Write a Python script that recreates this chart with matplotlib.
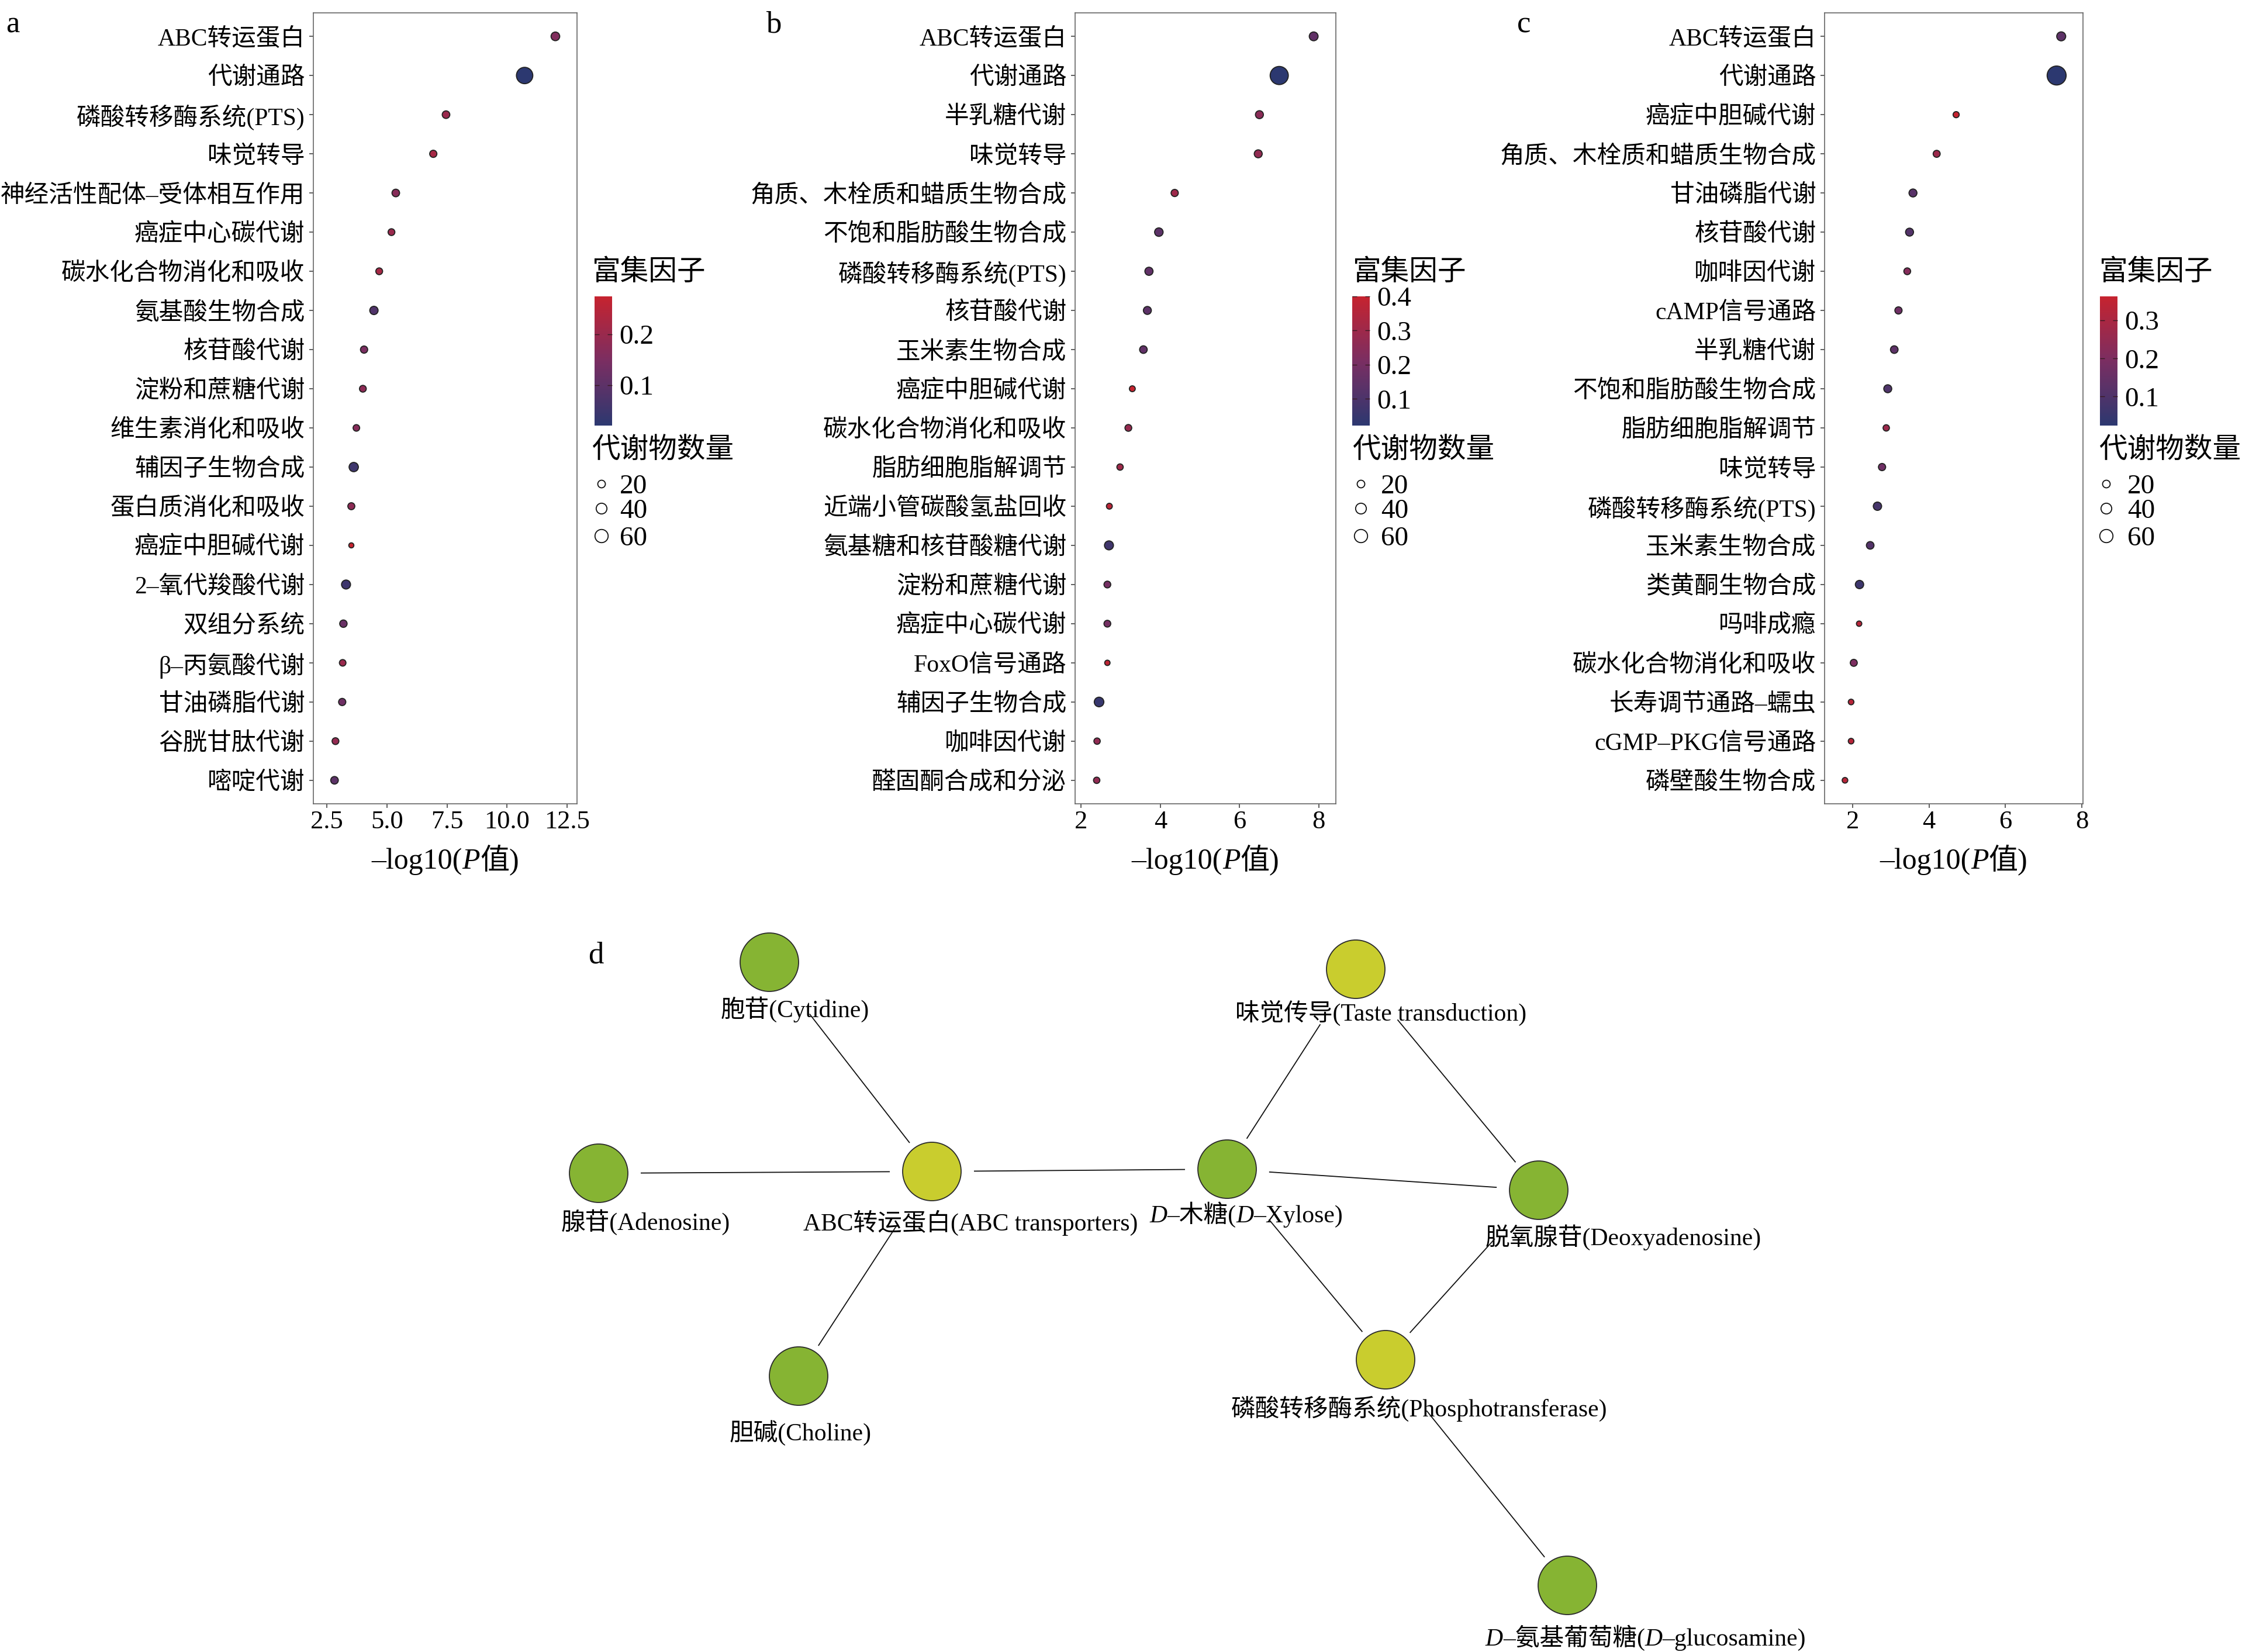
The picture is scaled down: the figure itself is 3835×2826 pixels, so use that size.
import re
import numpy as np
import matplotlib
matplotlib.use('Agg')
import matplotlib.pyplot as plt
import matplotlib.cm as cm
from matplotlib.colors import LinearSegmentedColormap, Normalize
from matplotlib.patches import Circle

FAM = ['Liberation Serif', 'Noto Sans CJK SC']
plt.rcParams['font.family'] = FAM

# ---------------- data ----------------
a_terms = ['ABC转运蛋白', '代谢通路', '磷酸转移酶系统(PTS)', '味觉转导', '神经活性配体–受体相互作用',
           '癌症中心碳代谢', '碳水化合物消化和吸收', '氨基酸生物合成', '核苷酸代谢', '淀粉和蔗糖代谢',
           '维生素消化和吸收', '辅因子生物合成', '蛋白质消化和吸收', '癌症中胆碱代谢', '2–氧代羧酸代谢',
           '双组分系统', 'β–丙氨酸代谢', '甘油磷脂代谢', '谷胱甘肽代谢', '嘧啶代谢']
a_logp = [12.01, 10.73, 7.46, 6.93, 5.37, 5.19, 4.68, 4.46, 4.05, 4.00,
          3.73, 3.62, 3.52, 3.52, 3.30, 3.19, 3.16, 3.14, 2.86, 2.82]
a_ef = [0.16, 0.021, 0.20, 0.22, 0.17, 0.20, 0.22, 0.08, 0.15, 0.18,
        0.17, 0.05, 0.18, 0.274, 0.05, 0.12, 0.20, 0.13, 0.19, 0.10]
a_count = [26, 93, 20, 18, 20, 16, 16, 24, 18, 16, 15, 30, 17, 9, 28, 19, 15, 18, 16, 20]
a_xticks = [2.5, 5.0, 7.5, 10.0, 12.5]
a_cticks = [0.1, 0.2]

b_terms = ['ABC转运蛋白', '代谢通路', '半乳糖代谢', '味觉转导', '角质、木栓质和蜡质生物合成',
           '不饱和脂肪酸生物合成', '磷酸转移酶系统(PTS)', '核苷酸代谢', '玉米素生物合成', '癌症中胆碱代谢',
           '碳水化合物消化和吸收', '脂肪细胞脂解调节', '近端小管碳酸氢盐回收', '氨基糖和核苷酸糖代谢',
           '淀粉和蔗糖代谢', '癌症中心碳代谢', 'FoxO信号通路', '辅因子生物合成', '咖啡因代谢', '醛固酮合成和分泌']
b_logp = [7.87, 7.00, 6.50, 6.47, 4.36, 3.96, 3.71, 3.67, 3.57, 3.29,
          3.19, 2.98, 2.71, 2.70, 2.66, 2.66, 2.66, 2.45, 2.40, 2.39]
b_ef = [0.15, 0.022, 0.25, 0.27, 0.30, 0.14, 0.15, 0.14, 0.15, 0.40,
        0.28, 0.30, 0.37, 0.07, 0.20, 0.20, 0.38, 0.05, 0.27, 0.27]
b_count = [27, 114, 22, 22, 18, 25, 23, 22, 20, 12, 16, 14, 12, 28, 16, 16, 10, 32, 14, 14]
b_xticks = [2, 4, 6, 8]
b_cticks = [0.1, 0.2, 0.3, 0.4]

c_terms = ['ABC转运蛋白', '代谢通路', '癌症中胆碱代谢', '角质、木栓质和蜡质生物合成', '甘油磷脂代谢',
           '核苷酸代谢', '咖啡因代谢', 'cAMP信号通路', '半乳糖代谢', '不饱和脂肪酸生物合成',
           '脂肪细胞脂解调节', '味觉转导', '磷酸转移酶系统(PTS)', '玉米素生物合成', '类黄酮生物合成',
           '吗啡成瘾', '碳水化合物消化和吸收', '长寿调节通路–蠕虫', 'cGMP–PKG信号通路', '磷壁酸生物合成']
c_logp = [7.46, 7.34, 4.71, 4.20, 3.58, 3.49, 3.43, 3.20, 3.09, 2.92,
          2.88, 2.77, 2.65, 2.46, 2.18, 2.17, 2.03, 1.96, 1.96, 1.80]
c_ef = [0.13, 0.024, 0.363, 0.27, 0.12, 0.11, 0.22, 0.17, 0.13, 0.10,
        0.27, 0.17, 0.08, 0.11, 0.06, 0.33, 0.20, 0.33, 0.33, 0.33]
c_count = [28, 125, 13, 17, 22, 22, 16, 18, 20, 22, 14, 18, 24, 20, 24, 10, 17, 11, 11, 11]
c_xticks = [2, 4, 6, 8]
c_cticks = [0.1, 0.2, 0.3]

size_legend_values = [20, 40, 60]

# network (panel d)
node_names = ['胞苷(Cytidine)', '腺苷(Adenosine)', 'ABC转运蛋白(ABC transporters)', '胆碱(Choline)',
              '味觉传导(Taste transduction)', 'D–木糖(D–Xylose)', '脱氧腺苷(Deoxyadenosine)',
              '磷酸转移酶系统(Phosphotransferase)', 'D–氨基葡萄糖(D–glucosamine)']
node_type = ['metabolite', 'metabolite', 'pathway', 'metabolite', 'pathway',
             'metabolite', 'metabolite', 'pathway', 'metabolite']
node_x = [1316, 1024, 1594, 1366, 2319, 2099, 2632, 2370, 2681]
node_y = [1646, 2007, 2004, 2354, 1658, 2000, 2036, 2326, 2712]
edges = [(0, 2), (1, 2), (2, 3), (2, 5), (4, 5), (4, 6), (5, 6), (5, 7), (6, 7), (7, 8)]

# ---------------- layout / style ----------------
W, H = 3835, 2826
DPI = 100
fig = plt.figure(figsize=(W / DPI, H / DPI), dpi=DPI)
fig.patch.set_facecolor('white')
renderer = fig.canvas.get_renderer()

cmap = LinearSegmentedColormap.from_list('ef', ['#2C3870', '#7A2E62', '#C6232F'])


def size_of(n):
    return 4.38 * np.asarray(n, dtype=float)


def rect(l, r, t, b):
    return [l / W, 1 - b / H, (r - l) / W, (b - t) / H]


def rich_text(cx, baseline_y, parts, size, ha='center'):
    objs = []
    for s, st in parts:
        t = fig.text(0, 0, s, fontsize=size, fontstyle=st, ha='left', va='baseline', family=FAM)
        objs.append(t)
    widths = [t.get_window_extent(renderer).width for t in objs]
    x = cx - sum(widths) / 2 if ha == 'center' else cx
    for t, w in zip(objs, widths):
        t.set_position((x / W, 1 - baseline_y / H))
        x += w


def italic_parts(s):
    out = []
    for p in re.split(r'(D(?=–))', s):
        if p == '':
            continue
        out.append((p, 'italic' if p == 'D' else 'normal'))
    return out


panels = [
    (a_terms, a_logp, a_ef, a_count, a_xticks, a_cticks, (1.94, 12.91), (536, 987), '%.1f', 'a', 10,
     1017, 1012, 1029, 1060),
    (b_terms, b_logp, b_ef, b_count, b_xticks, b_cticks, (1.845, 8.43), (1839, 2285), '%d', 'b', 1310,
     2313, 2313, 2328, 2362),
    (c_terms, c_logp, c_ef, c_count, c_xticks, c_cticks, (1.266, 8.03), (3121, 3563), '%d', 'c', 2595,
     3592, 3590, 3603, 3639),
]

AX_TOP, AX_BOT = 22, 1375
CB_TOP, CB_BOT = 507, 728
leg_y = [828, 870, 917]

for (terms, logp, ef, count, xticks, cticks, xlim, (l, r), fmt, letter, letter_x,
     cbar_x, title_x, circ_x, lab_x) in panels:
    ax = fig.add_axes(rect(l, r, AX_TOP, AX_BOT))
    n = len(terms)
    ypos = np.arange(n)[::-1]
    norm = Normalize(min(ef), max(ef))
    ax.scatter(logp, ypos, s=size_of(count), c=ef, cmap=cmap, norm=norm,
               edgecolors='#222222', linewidths=1.3, zorder=3)
    ax.set_xlim(*xlim)
    ax.set_ylim(-0.6, n - 0.4)
    ax.set_yticks(ypos)
    ax.set_yticklabels(terms, fontsize=30)
    ax.set_xticks(xticks)
    ax.set_xticklabels([fmt % v for v in xticks], fontsize=32)
    ax.tick_params(axis='y', length=5, width=1.1, color='#333333', pad=5.5)
    ax.tick_params(axis='x', length=5, width=1.1, color='#333333', pad=3)
    for sp in ax.spines.values():
        sp.set_color('#666666')
        sp.set_linewidth(1.2)
    cx = (l + r) / 2
    rich_text(cx, 1486, [('–log10(', 'normal'), ('P', 'italic'), ('值)', 'normal')], 36)
    fig.text(letter_x / W, 1 - 56 / H, letter, fontsize=38, ha='left', va='baseline')

    # colour bar
    cax = fig.add_axes(rect(cbar_x, cbar_x + 30, CB_TOP, CB_BOT))
    cb = fig.colorbar(cm.ScalarMappable(norm=norm, cmap=cmap), cax=cax)
    cb.outline.set_visible(False)
    cb.minorticks_off()
    cb.set_ticks(cticks)
    cb.set_ticklabels(['%.1f' % v for v in cticks])
    cax.tick_params(which='both', direction='in', length=6, width=1.0, color='#3a1a22',
                    left=True, right=True, labelleft=False, labelright=True, labelsize=34, pad=9)
    fig.text(title_x / W, 1 - 479 / H, '富集因子', fontsize=35, ha='left', va='baseline')
    fig.text(title_x / W, 1 - 783 / H, '代谢物数量', fontsize=35, ha='left', va='baseline')

# overlay axes in pixel coordinates (size legends + network)
ov = fig.add_axes([0, 0, 1, 1], zorder=5)
ov.set_xlim(0, W)
ov.set_ylim(H, 0)
ov.patch.set_visible(False)
ov.axis('off')

for p in panels:
    circ_x, lab_x = p[-2], p[-1]
    for v, yy in zip(size_legend_values, leg_y):
        ov.scatter([circ_x], [yy], s=size_of(v), facecolors='none', edgecolors='#111111', linewidths=1.3)
        fig.text(lab_x / W, 1 - (yy + 16) / H, str(v), fontsize=34, ha='left', va='baseline')

# ---- network panel d ----
fig.text(1006 / W, 1 - 1647 / H, 'd', fontsize=38, ha='left', va='baseline')


def shrink(i, j):
    dy = node_y[j] - node_y[i]
    if dy > 100:
        return 112
    if dy < -100:
        return 62
    return 72


for i, j in edges:
    x0, y0, x1, y1 = node_x[i], node_y[i], node_x[j], node_y[j]
    d = np.hypot(x1 - x0, y1 - y0)
    ux, uy = (x1 - x0) / d, (y1 - y0) / d
    sa, sb = shrink(i, j), shrink(j, i)
    ov.plot([x0 + ux * sa, x1 - ux * sb], [y0 + uy * sa, y1 - uy * sb],
            color='#111111', linewidth=1.3, solid_capstyle='butt')

node_colors = {'metabolite': '#86B433', 'pathway': '#C9CD2E'}
label_dx = [44, 80, 66, 3, 43, 33, 145, 58, 134]
label_dy = [80, 83, 87, 96, 74, 77, 80, 83, 89]
for k in range(len(node_names)):
    ov.add_patch(Circle((node_x[k], node_y[k]), 50, facecolor=node_colors[node_type[k]],
                        edgecolor='#2a2a2a', linewidth=1.3, zorder=4))
    rich_text(node_x[k] + label_dx[k], node_y[k] + label_dy[k] + 14, italic_parts(node_names[k]), 30)

fig.savefig('out.png', dpi=DPI, facecolor='white')
